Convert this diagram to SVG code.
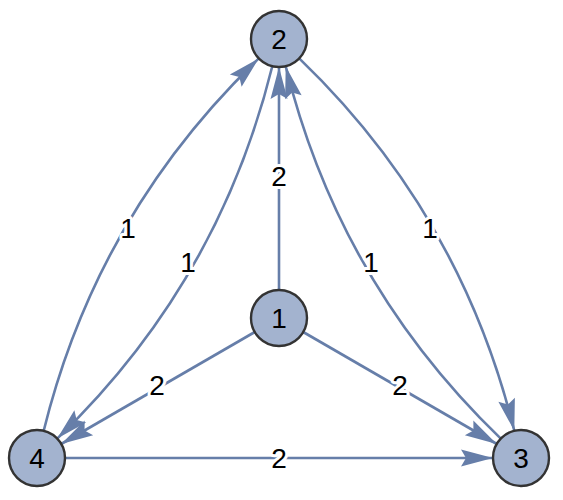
<svg xmlns="http://www.w3.org/2000/svg" width="563" height="500" viewBox="0 0 563 500">
<style>
.e{fill:none;stroke:#667ea9;stroke-width:2.6;marker-end:url(#ah)}
.n circle{fill:#a3b3cf;stroke:#333;stroke-width:2.4}
.n text{font-family:"Liberation Sans",Arial,sans-serif;font-size:28px;text-anchor:middle;fill:#000}
.l{font-family:"Liberation Sans",Arial,sans-serif;font-size:28px;text-anchor:middle;fill:#000;stroke:#fff;stroke-width:6;paint-order:stroke;stroke-linejoin:round}
</style>
<defs>
<marker id="ah" markerUnits="userSpaceOnUse" orient="auto" refX="0" refY="0" markerWidth="40" markerHeight="20" viewBox="-33 -10 34 20" overflow="visible">
<path d="M0,0 L-32,-8.5 L-27,0 L-32,8.5 Z" fill="#667ea9"/>
</marker>
</defs>
<rect width="563" height="500" fill="#fff"/>
<g id="edges">
<path class="e" d="M279,290 L279,67"/>
<path class="e" d="M254.8,332 L61.2,444"/>
<path class="e" d="M303.2,332 L496.8,444"/>
<path class="e" d="M65,458 L493,458"/>
<path class="e" d="M43.7,430.8 Q97.4,213.5 258.8,58.4"/>
<path class="e" d="M272.3,66.2 Q218.6,283.5 57.2,438.6"/>
<path class="e" d="M299.2,58.4 Q460.6,213.5 514.3,430.8"/>
<path class="e" d="M500.8,438.6 Q339.4,283.5 285.7,66.2"/>
</g>
<g id="labels">
<text class="l" x="279" y="186">2</text>
<text class="l" x="157" y="395">2</text>
<text class="l" x="400" y="395">2</text>
<text class="l" x="279" y="468">2</text>
<text class="l" x="128" y="238">1</text>
<text class="l" x="188" y="272">1</text>
<text class="l" x="371" y="272">1</text>
<text class="l" x="430" y="238">1</text>
</g>
<g id="node1" class="n"><circle cx="279" cy="318" r="28"/><text x="279" y="328">1</text></g>
<g id="node2" class="n"><circle cx="279" cy="39" r="28"/><text x="279" y="49">2</text></g>
<g id="node3" class="n"><circle cx="521" cy="458" r="28"/><text x="521" y="468">3</text></g>
<g id="node4" class="n"><circle cx="37" cy="458" r="28"/><text x="37" y="468">4</text></g>
</svg>
